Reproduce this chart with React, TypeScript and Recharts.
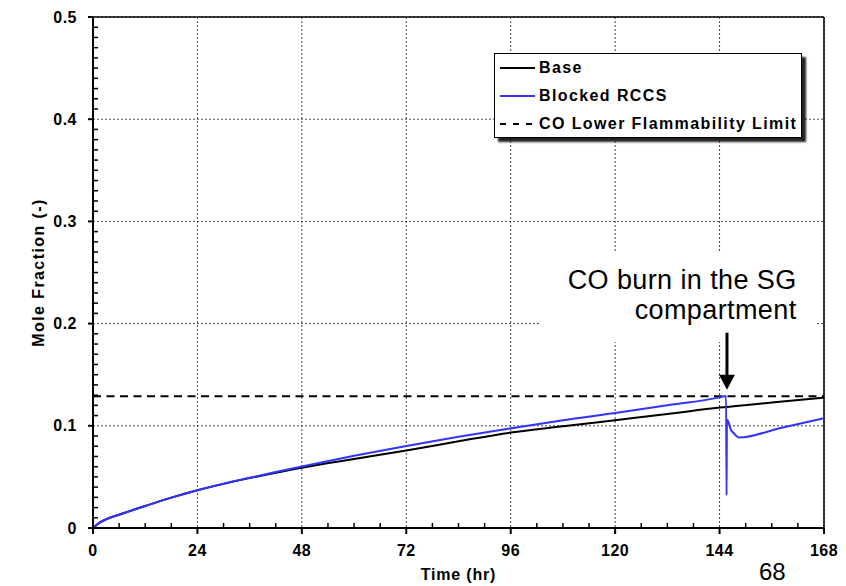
import React from 'react';
import {
  LineChart,
  Line,
  XAxis,
  YAxis,
  CartesianGrid,
  ReferenceLine,
  ReferenceArea,
  ReferenceDot,
  Legend,
} from 'recharts';

const FONT = '"Liberation Sans", Arial, Helvetica, sans-serif';

// ---- data ----
const baseTime = [0, 1.6, 3, 6, 12, 18, 24, 30, 36, 42, 48, 60, 72, 84, 96, 108, 120, 132, 144, 156, 168];
const baseValue = [
  0, 0.0055, 0.0085, 0.013, 0.0215, 0.0297, 0.037, 0.0432, 0.0488, 0.054, 0.059, 0.0675, 0.0758,
  0.0848, 0.0934, 0.0995, 0.1055, 0.1115, 0.1178, 0.1228, 0.1275,
];

const blockedTime = [
  0, 1.6, 3, 6, 12, 18, 24, 30, 36, 42, 48, 60, 72, 84, 96, 108, 120, 132, 144, 145.5, 145.6, 145.7,
  146, 146.6, 147.2, 148.5, 158, 168,
];
const blockedValue = [
  0, 0.0055, 0.0085, 0.013, 0.0215, 0.0297, 0.037, 0.0433, 0.0491, 0.0548, 0.0602, 0.0706, 0.0802,
  0.0892, 0.0975, 0.1055, 0.1125, 0.12, 0.1278, 0.1292, 0.032, 0.106, 0.104, 0.096, 0.093, 0.0885,
  0.0979, 0.1073,
];

const flammabilityLimit = 0.129;

const xTicks = [0, 24, 48, 72, 96, 120, 144, 168];
const yTicks = [0, 0.1, 0.2, 0.3, 0.4, 0.5];
const xMinorTicks = [6, 12, 18, 30, 36, 42, 54, 60, 66, 78, 84, 90, 102, 108, 114, 126, 132, 138, 150, 156, 162];
const yMinorTicks = [
  0.01, 0.02, 0.03, 0.04, 0.05, 0.06, 0.07, 0.08, 0.09,
  0.11, 0.12, 0.13, 0.14, 0.15, 0.16, 0.17, 0.18, 0.19,
  0.21, 0.22, 0.23, 0.24, 0.25, 0.26, 0.27, 0.28, 0.29,
  0.31, 0.32, 0.33, 0.34, 0.35, 0.36, 0.37, 0.38, 0.39,
  0.41, 0.42, 0.43, 0.44, 0.45, 0.46, 0.47, 0.48, 0.49,
];

const legendLabels = ['Base', 'Blocked RCCS', 'CO Lower Flammability Limit'];
const annotationLines = ['CO burn in the SG', 'compartment'];
const xTitle = 'Time (hr)';
const yTitle = 'Mole Fraction (-)';
const pageNumber = '68';

// annotation anchor (data space)
const annotationBox = { x1: 102.5, x2: 166.3, y1: 0.182, y2: 0.271 };
const arrowTip = { t: 145.7, v: 0.1353 };

const baseData = baseTime.map((t, i) => ({ t, v: baseValue[i] }));
const blockedData = blockedTime.map((t, i) => ({ t, v: blockedValue[i] }));

const legendSamples = [
  { stroke: '#000', dash: undefined as string | undefined },
  { stroke: '#3333ff', dash: undefined as string | undefined },
  { stroke: '#000', dash: '6 7' },
];

function EmptyTick() {
  return <g />;
}

function LegendBox() {
  return (
    <div
      style={{
        width: 308,
        height: 85,
        boxSizing: 'border-box',
        border: '1.5px solid #000',
        background: '#fff',
        boxShadow: '4px 4px 2px #222',
        fontFamily: FONT,
        fontWeight: 'bold',
        fontSize: 16,
        letterSpacing: 1.4,
        color: '#000',
      }}
    >
      {legendLabels.map((label, i) => (
        <div key={label} style={{ height: 28, display: 'flex', alignItems: 'center', paddingLeft: 5 }}>
          <svg width={35} height={4} style={{ marginRight: 4, flex: 'none' }}>
            <line
              x1={0}
              y1={2}
              x2={35}
              y2={2}
              stroke={legendSamples[i].stroke}
              strokeWidth={2}
              strokeDasharray={legendSamples[i].dash}
            />
          </svg>
          <span style={{ whiteSpace: 'nowrap' }}>{label}</span>
        </div>
      ))}
    </div>
  );
}

function AnnotationLabel(props: any) {
  const vb = props.viewBox || {};
  const right = vb.x + vb.width - 20;
  return (
    <text fontFamily={FONT} fontSize={27} textAnchor="end" fill="#000" letterSpacing={0.4}>
      <tspan x={right} y={vb.y + 38}>
        {annotationLines[0]}
      </tspan>
      <tspan x={right} y={vb.y + 68}>
        {annotationLines[1]}
      </tspan>
    </text>
  );
}

function ArrowShape(props: any) {
  const { cx, cy } = props;
  if (cx == null || cy == null) return null;
  return (
    <g>
      <line x1={cx} y1={cy - 57} x2={cx} y2={cy - 14} stroke="#000" strokeWidth={3} />
      <polygon points={`${cx - 8},${cy - 15} ${cx + 8},${cy - 15} ${cx},${cy}`} fill="#000" />
    </g>
  );
}

function XTitle(props: any) {
  const vb = props.viewBox || {};
  return (
    <text
      x={vb.x + vb.width / 2}
      y={vb.y + 52}
      textAnchor="middle"
      fontFamily={FONT}
      fontWeight="bold"
      fontSize={16}
      letterSpacing={0.8}
      fill="#000"
    >
      {xTitle}
    </text>
  );
}

function YTitle(props: any) {
  const vb = props.viewBox || {};
  const cx = vb.x + 11;
  const cy = vb.y + vb.height / 2;
  return (
    <text
      x={cx}
      y={cy}
      transform={`rotate(-90 ${cx} ${cy})`}
      textAnchor="middle"
      fontFamily={FONT}
      fontWeight="bold"
      fontSize={16}
      letterSpacing={1.4}
      fill="#000"
    >
      {yTitle}
    </text>
  );
}

const tickStyle = { fontFamily: FONT, fontSize: 16, fontWeight: 'bold', fill: '#000', letterSpacing: 0.5 };

export default function App() {
  return (
    <div
      style={{
        position: 'absolute',
        left: 0,
        top: 0,
        width: 846,
        height: 586,
        overflow: 'hidden',
        background: '#fff',
      }}
    >
      <LineChart width={846} height={586} margin={{ top: 17, right: 22, bottom: 28, left: 33 }}>
        <CartesianGrid stroke="#444" strokeDasharray="2 2" strokeWidth={1} />
        <XAxis
          dataKey="t"
          type="number"
          domain={[0, 168]}
          ticks={xTicks}
          interval={0}
          height={30}
          tickSize={6}
          tickMargin={11}
          tick={tickStyle}
          axisLine={{ stroke: '#000', strokeWidth: 2 }}
          tickLine={{ stroke: '#000', strokeWidth: 2 }}
          label={<XTitle />}
        />
        <XAxis
          xAxisId="mx"
          dataKey="t"
          type="number"
          domain={[0, 168]}
          allowDataOverflow
          ticks={xMinorTicks}
          interval={0}
          height={1}
          mirror
          tick={<EmptyTick />}
          tickSize={5}
          axisLine={false}
          tickLine={{ stroke: '#000', strokeWidth: 1.5 }}
        />
        <YAxis
          type="number"
          domain={[0, 0.5]}
          ticks={yTicks}
          interval={0}
          width={60}
          tickSize={5}
          tickMargin={11}
          tick={tickStyle}
          tickFormatter={(v: number) => (v === 0 ? '0' : v.toFixed(1))}
          axisLine={{ stroke: '#000', strokeWidth: 2 }}
          tickLine={{ stroke: '#000', strokeWidth: 2 }}
          label={<YTitle />}
        />
        <YAxis
          yAxisId="my"
          type="number"
          domain={[0, 0.5]}
          allowDataOverflow
          ticks={yMinorTicks}
          interval={0}
          width={1}
          mirror
          tick={<EmptyTick />}
          tickSize={5}
          axisLine={false}
          tickLine={{ stroke: '#000', strokeWidth: 1.5 }}
        />
        <ReferenceLine y={0.5} stroke="#000" strokeWidth={1.5} />
        <ReferenceLine x={168} stroke="#000" strokeWidth={1.5} />
        <ReferenceArea
          x1={annotationBox.x1}
          x2={annotationBox.x2}
          y1={annotationBox.y1}
          y2={annotationBox.y2}
          fill="#fff"
          fillOpacity={1}
          stroke="none"
          label={<AnnotationLabel />}
        />
        <ReferenceLine y={flammabilityLimit} stroke="#000" strokeWidth={2} strokeDasharray="8 5.5" />
        <Line
          data={baseData}
          dataKey="v"
          xAxisId="mx"
          yAxisId="my"
          stroke="none"
          strokeWidth={0}
          dot={false}
          activeDot={false}
          legendType="none"
          isAnimationActive={false}
        />
        <Line
          data={baseData}
          dataKey="v"
          name={legendLabels[0]}
          type="monotone"
          stroke="#000"
          strokeWidth={2}
          dot={false}
          activeDot={false}
          isAnimationActive={false}
        />
        <Line
          data={blockedData}
          dataKey="v"
          name={legendLabels[1]}
          type="monotone"
          stroke="#3333ff"
          strokeWidth={2}
          dot={false}
          activeDot={false}
          isAnimationActive={false}
        />
        <ReferenceDot x={arrowTip.t} y={arrowTip.v} shape={<ArrowShape />} />
        <Legend
          layout="vertical"
          align="center"
          verticalAlign="middle"
          content={<LegendBox />}
          wrapperStyle={{ left: 494, top: 53, width: 308, height: 85 }}
        />
      </LineChart>
      <div
        style={{
          position: 'absolute',
          left: 759,
          top: 558,
          fontFamily: FONT,
          fontSize: 24,
          lineHeight: 'normal',
          color: '#000',
          whiteSpace: 'nowrap',
        }}
      >
        {pageNumber}
      </div>
    </div>
  );
}
